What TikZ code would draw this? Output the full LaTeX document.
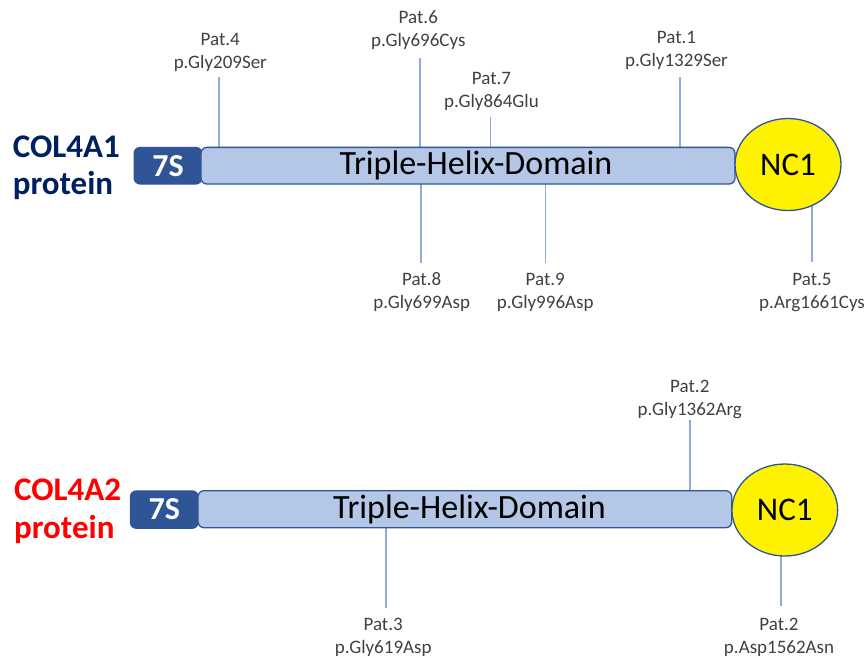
\documentclass[tikz,border=0pt]{standalone}
\usepackage{fontspec}
\setmainfont{Carlito}
\usetikzlibrary{shapes.geometric,backgrounds}
\definecolor{navy}{HTML}{002060}
\definecolor{sevenblue}{HTML}{2F5597}
\definecolor{helixfill}{HTML}{B4C7E7}
\definecolor{connblue}{HTML}{8FAADC}
\definecolor{labelgray}{HTML}{404040}
\tikzset{
  sevenbox/.style={draw=sevenblue, fill=sevenblue, rounded corners=6pt, line width=1pt,
    inner sep=0pt, text=white, font=\bfseries\fontsize{32}{32}\selectfont},
  helixbox/.style={draw=sevenblue, fill=helixfill, rounded corners=6pt, line width=1.3pt, inner sep=0pt},
  helixtext/.style={inner sep=0pt, font=\fontsize{34}{34}\selectfont, text=black},
  nconebox/.style={ellipse, draw=sevenblue, fill=yellow, line width=1.3pt, inner sep=0pt,
    font=\fontsize{33}{33}\selectfont, text=black},
  protname/.style={inner sep=0pt, anchor=base west, align=left,
    font=\bfseries\fontsize{33}{37.5}\selectfont},
  patlabel/.style={inner sep=0pt, anchor=base, align=center, text=labelgray,
    font=\fontsize{19}{23}\selectfont},
  conn/.style={draw=connblue, line width=1.1pt}
}
\begin{document}
\begin{tikzpicture}[x=1pt,y=-1pt]
\useasboundingbox (0,0) rectangle (864,657);
% ---------- COL4A1 ----------
\node[protname, text=navy] (n1) at (12.7,194.8) {COL4A1\\protein};
\node[sevenbox, minimum width=68pt, minimum height=36.7pt] (s1) at (168,165.7) {7S};
\node[helixbox, minimum width=534pt, minimum height=36.7pt] (h1) at (468,165.7) {};
\node[helixtext] (t1) at (476,165.7) {Triple-Helix-Domain};
\node[nconebox, minimum width=106pt, minimum height=92pt] (e1) at (788,164.5) {NC1};

\node[patlabel] (p4) at (220.3,68.3) {Pat.4\\p.Gly209Ser};
\node[patlabel] (p6) at (418.3,46.7) {Pat.6\\p.Gly696Cys};
\node[patlabel] (p7) at (491.5,107.3) {Pat.7\\p.Gly864Glu};
\node[patlabel] (p1) at (676.5,66.7) {Pat.1\\p.Gly1329Ser};
\node[patlabel] (p8) at (421.7,308.3) {Pat.8\\p.Gly699Asp};
\node[patlabel] (p9) at (545.2,308.3) {Pat.9\\p.Gly996Asp};
\node[patlabel] (p5) at (812,308.5) {Pat.5\\p.Arg1661Cys};

\coordinate (c4) at (219,77);
\coordinate (c6) at (420,57.7);
\coordinate (c7) at (490.3,117.3);
\coordinate (c1) at (680,77.3);
\coordinate (c8) at (421,262.7);
\coordinate (c9) at (545.3,262.7);
\coordinate (c5) at (812,261.7);

% ---------- COL4A2 ----------
\node[protname, text=red] (n2) at (14,538.3) {COL4A2\\protein};
\node[sevenbox, minimum width=68pt, minimum height=37.5pt] (s2) at (164.3,509.6) {7S};
\node[helixbox, minimum width=533.7pt, minimum height=37pt] (h2) at (464.9,509.2) {};
\node[helixtext] (t2) at (469.5,509.6) {Triple-Helix-Domain};
\node[nconebox, minimum width=105.7pt, minimum height=92pt] (e2) at (784.8,510) {NC1};

\node[patlabel] (p2a) at (689.8,415) {Pat.2\\p.Gly1362Arg};
\node[patlabel] (p3) at (383.2,653.3) {Pat.3\\p.Gly619Asp};
\node[patlabel] (p2b) at (779,653.3) {Pat.2\\p.Asp1562Asn};

\coordinate (c2a) at (690,420);
\coordinate (c3) at (386,608);
\coordinate (c2b) at (781,606);

\begin{pgfonlayer}{background}
\draw[conn] (c4) -- (c4 |- h1.center);
\draw[conn] (c6) -- (c6 |- h1.center);
\draw[conn] (c7) -- (c7 |- h1.center);
\draw[conn] (c1) -- (c1 |- h1.center);
\draw[conn] (c8) -- (c8 |- h1.center);
\draw[conn] (c9) -- (c9 |- h1.center);
\draw[conn] (c5) -- (c5 |- e1.center);
\draw[conn] (c2a) -- (c2a |- h2.center);
\draw[conn] (c3) -- (c3 |- h2.center);
\draw[conn] (c2b) -- (c2b |- e2.center);
\end{pgfonlayer}
\end{tikzpicture}
\end{document}
